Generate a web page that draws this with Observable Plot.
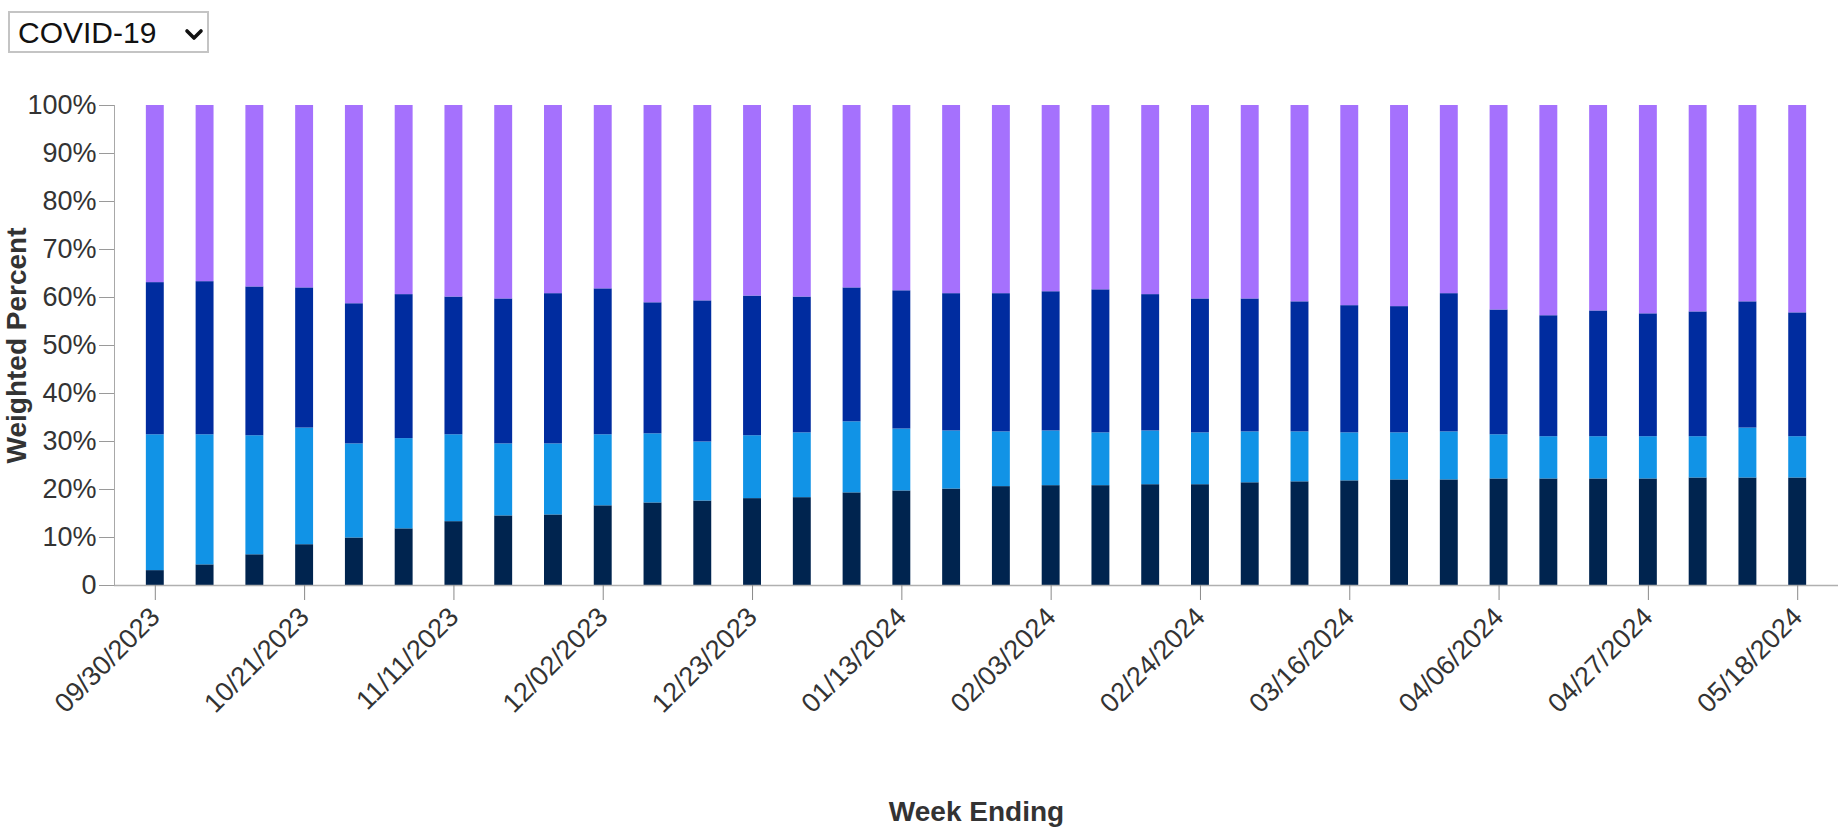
<!DOCTYPE html>
<html>
<head>
<meta charset="utf-8">
<script src="https://cdn.jsdelivr.net/npm/d3@7"></script>
<script src="https://cdn.jsdelivr.net/npm/@observablehq/plot@0.6"></script>
<style>
  html, body { margin: 0; padding: 0; background: #fff; }
  body { font-family: "Liberation Sans", Arial, Helvetica, sans-serif; width: 1840px; height: 827px; overflow: hidden; }
  #top { height: 60px; box-sizing: border-box; padding: 11px 0 0 8px; }
  #top select {
    -webkit-appearance: none; appearance: none;
    font: 30px "Liberation Sans", Arial, Helvetica, sans-serif;
    color: #111;
    width: 201px; height: 42px;
    border: 2px solid #c4c4c4; border-radius: 0;
    padding: 0 0 0 8px;
    background-color: #fff;
    background-image: url("data:image/svg+xml;utf8,<svg xmlns='http://www.w3.org/2000/svg' width='20' height='14' viewBox='0 0 20 14'><polyline points='3,3 10,10 17,3' fill='none' stroke='%23111' stroke-width='3.6' stroke-linecap='round' stroke-linejoin='round'/></svg>");
    background-repeat: no-repeat;
    background-position: 174px 15px;
    background-size: 20px 14px;
  }
  #chart svg { display: block; }
</style>
</head>
<body>
<div id="top">
  <select id="virus"><option>COVID-19</option><option>Influenza</option><option>RSV</option></select>
</div>
<div id="chart"></div>
<script>
// Week ending dates (categories)
const weeks = [
  "09/30/2023","10/07/2023","10/14/2023","10/21/2023","10/28/2023","11/04/2023","11/11/2023",
  "11/18/2023","11/25/2023","12/02/2023","12/09/2023","12/16/2023","12/23/2023","12/30/2023",
  "01/06/2024","01/13/2024","01/20/2024","01/27/2024","02/03/2024","02/10/2024","02/17/2024",
  "02/24/2024","03/02/2024","03/09/2024","03/16/2024","03/23/2024","03/30/2024","04/06/2024",
  "04/13/2024","04/20/2024","04/27/2024","05/04/2024","05/11/2024","05/18/2024"
];

// Series names (bottom to top) and colours
const seriesNames = ["Group A", "Group B", "Group C", "Group D"];
const seriesColors = ["#00244f", "#1193e6", "#002c9f", "#a571fd"];

// Weighted percent per series (stacked bottom to top)
const groupA = [3.1,4.3,6.4,8.5,9.9,11.8,13.3,14.5,14.7,16.6,17.2,17.6,18.1,18.3,19.3,19.7,20.1,
                20.6,20.8,20.8,21.0,21.0,21.4,21.6,21.8,22.0,22.0,22.2,22.2,22.2,22.2,22.4,22.4,22.4];
const groupB = [28.3,27.1,24.8,24.3,19.6,18.8,18.1,15.0,14.8,14.8,14.4,12.3,13.1,13.5,14.8,12.9,12.1,
                11.4,11.4,11.0,11.2,10.8,10.6,10.4,10.0,9.8,10.0,9.2,8.8,8.8,8.8,8.6,10.4,8.6];
const groupC = [31.7,31.9,31.0,29.2,29.2,30.0,28.7,30.2,31.3,30.4,27.3,29.4,29.1,28.3,27.9,28.8,28.6,
                28.8,29.0,29.8,28.4,27.9,27.7,27.1,26.5,26.3,28.8,26.0,25.2,26.2,25.6,26.0,26.3,25.8];
const groupD = [36.9,36.7,37.8,38.0,41.3,39.4,39.9,40.3,39.2,38.2,41.1,40.7,39.7,39.9,38.0,38.6,39.2,
                39.2,38.8,38.4,39.4,40.3,40.3,40.9,41.7,41.9,39.2,42.6,43.8,42.8,43.4,43.0,40.9,43.2];

// Axis ticks
const yTicks = [0,10,20,30,40,50,60,70,80,90,100];
const xTickLabels = weeks.filter((d, i) => i % 3 === 0);

const seriesValues = [groupA, groupB, groupC, groupD];
const rows = [];
seriesNames.forEach((s, si) => {
  weeks.forEach((w, wi) => rows.push({week: w, series: s, value: seriesValues[si][wi]}));
});

const FONT = '"Liberation Sans", Arial, Helvetica, sans-serif';

const chart = Plot.plot({
  width: 1840,
  height: 767,
  marginTop: 45,
  marginLeft: 114,
  marginRight: 2,
  marginBottom: 242,
  style: {fontFamily: FONT, fontSize: "27px", color: "#333", background: "#fff"},
  x: {type: "band", domain: weeks, padding: 0.64, round: false},
  y: {domain: [0, 100]},
  color: {domain: seriesNames, range: seriesColors},
  marks: [
    Plot.barY(rows, Plot.stackY({x: "week", y: "value", z: "series", fill: "series", order: null})),
    Plot.ruleY([0], {stroke: "#b0b0b0", strokeWidth: 1.5}),
    Plot.frame({anchor: "left", stroke: "#a8a8a8"}),
    Plot.axisY({
      ticks: yTicks,
      tickFormat: d => d === 0 ? "0" : d + "%",
      tickSize: 15, tickPadding: 3,
      stroke: "#9a9a9a", fill: "#333",
      fontSize: 27, label: null
    }),
    Plot.axisY({
      ticks: [], tickSize: 0, label: "Weighted Percent",
      labelAnchor: "center", labelArrow: "none", labelOffset: 108,
      fontSize: 28, fontWeight: "bold", fill: "#333"
    }),
    Plot.axisX({
      ticks: xTickLabels,
      tickRotate: -45,
      tickSize: 15, tickPadding: 12,
      stroke: "#8a8a8a", fill: "#333",
      fontSize: 27, label: null
    }),
    Plot.axisX({
      ticks: [], tickSize: 0, label: "Week Ending",
      labelAnchor: "center", labelArrow: "none", labelOffset: 235,
      fontSize: 28, fontWeight: "bold", fill: "#333"
    })
  ]
});
document.getElementById("chart").appendChild(chart);
</script>
</body>
</html>
